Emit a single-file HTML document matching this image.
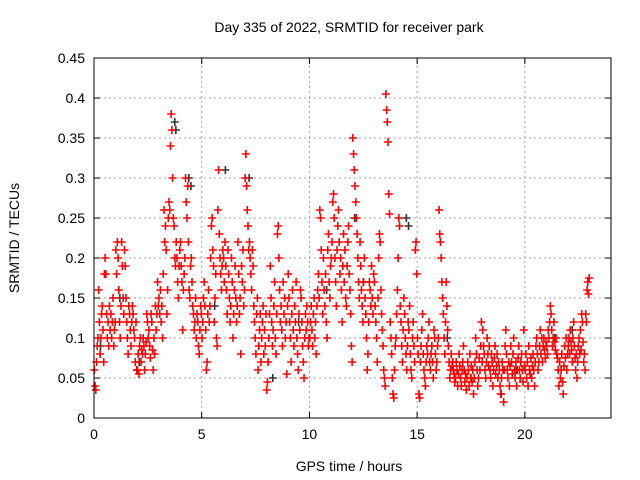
<!DOCTYPE html>
<html><head><meta charset="utf-8"><style>
body{margin:0;background:#fff}
svg{display:block;font-family:"Liberation Sans",sans-serif}
</style></head><body>
<svg id="chart" width="640" height="480">
<text x="349" y="32" font-size="14" text-anchor="middle">Day 335 of 2022, SRMTID for receiver park</text>
<text x="349" y="471" font-size="14" text-anchor="middle">GPS time / hours</text>
<text transform="translate(19,238) rotate(-90)" font-size="14" text-anchor="middle">SRMTID / TECUs</text>
<g id="grid"></g><g id="ticks"></g><g id="black"></g><g id="red"></g>
<rect x="94" y="58" width="517" height="360" fill="none" stroke="#000"/>
</svg>
<script>
const xTicks=[0,5,10,15,20];
const yTicks=[0,0.05,0.1,0.15,0.2,0.25,0.3,0.35,0.4,0.45];
const yTickLabels=["0","0.05","0.1","0.15","0.2","0.25","0.3","0.35","0.4","0.45"];
const redByHour=[
[0.06,0.04,0.035,0.07,0.09,0.1,0.16,0.12,0.08,0.1,0.13,0.14,0.11,0.07,0.18,0.2,0.18,0.13,0.1,0.12,0.09,0.14,0.11,0.13,0.1,0.12,0.15,0.09,0.11,0.12],
[0.21,0.18,0.22,0.2,0.16,0.12,0.1,0.14,0.22,0.19,0.15,0.13,0.21,0.19,0.15,0.12,0.1,0.08,0.14,0.13,0.11,0.09,0.12,0.14,0.13,0.11,0.1,0.07,0.12,0.06],
[0.06,0.08,0.055,0.09,0.1,0.07,0.085,0.08,0.1,0.09,0.06,0.08,0.095,0.13,0.12,0.1,0.11,0.09,0.075,0.13,0.12,0.085,0.06,0.1,0.08,0.14,0.11,0.13,0.17,0.14],
[0.15,0.13,0.16,0.12,0.14,0.1,0.18,0.26,0.22,0.24,0.21,0.13,0.16,0.25,0.27,0.26,0.34,0.38,0.36,0.3,0.25,0.24,0.2,0.19,0.22,0.2,0.17,0.15,0.19,0.21],
[0.22,0.19,0.17,0.11,0.16,0.18,0.2,0.3,0.27,0.25,0.29,0.22,0.16,0.15,0.19,0.2,0.17,0.14,0.13,0.11,0.12,0.15,0.1,0.13,0.12,0.09,0.08,0.11,0.14,0.13],
[0.1,0.12,0.15,0.17,0.14,0.11,0.06,0.07,0.13,0.16,0.12,0.14,0.2,0.24,0.25,0.21,0.19,0.12,0.15,0.18,0.1,0.09,0.26,0.31,0.23,0.2,0.18,0.16,0.19,0.21],
[0.2,0.17,0.22,0.19,0.16,0.13,0.21,0.18,0.15,0.12,0.14,0.2,0.17,0.1,0.13,0.16,0.19,0.15,0.12,0.14,0.22,0.18,0.13,0.15,0.08,0.19,0.17,0.21,0.14,0.16],
[0.3,0.33,0.29,0.26,0.24,0.21,0.22,0.2,0.18,0.16,0.21,0.19,0.14,0.12,0.1,0.08,0.13,0.15,0.06,0.09,0.11,0.13,0.07,0.1,0.12,0.14,0.08,0.11,0.09,0.13],
[0.035,0.045,0.07,0.1,0.13,0.19,0.15,0.12,0.09,0.11,0.14,0.17,0.1,0.08,0.13,0.23,0.24,0.2,0.16,0.12,0.14,0.11,0.09,0.17,0.13,0.15,0.1,0.12,0.055,0.14],
[0.18,0.15,0.12,0.1,0.07,0.13,0.16,0.11,0.09,0.14,0.12,0.17,0.1,0.08,0.06,0.13,0.11,0.16,0.15,0.12,0.09,0.07,0.05,0.1,0.13,0.11,0.14,0.12,0.09,0.1],
[0.1,0.12,0.14,0.11,0.09,0.13,0.15,0.1,0.12,0.08,0.14,0.16,0.18,0.15,0.26,0.25,0.21,0.17,0.13,0.2,0.16,0.14,0.18,0.12,0.1,0.21,0.23,0.17,0.15,0.19],
[0.2,0.22,0.27,0.28,0.25,0.2,0.17,0.14,0.21,0.24,0.26,0.22,0.18,0.2,0.16,0.12,0.19,0.23,0.17,0.21,0.15,0.14,0.19,0.22,0.24,0.18,0.16,0.13,0.09,0.07],
[0.35,0.33,0.31,0.29,0.27,0.25,0.23,0.2,0.17,0.15,0.22,0.19,0.16,0.14,0.12,0.17,0.2,0.15,0.13,0.1,0.06,0.08,0.12,0.17,0.16,0.14,0.19,0.15,0.13,0.18],
[0.17,0.14,0.12,0.1,0.07,0.15,0.2,0.23,0.22,0.16,0.13,0.11,0.09,0.06,0.05,0.04,0.405,0.385,0.37,0.345,0.28,0.255,0.12,0.1,0.08,0.05,0.03,0.025,0.06,0.09],
[0.1,0.13,0.16,0.2,0.25,0.24,0.14,0.12,0.09,0.07,0.11,0.15,0.13,0.1,0.08,0.06,0.09,0.12,0.11,0.14,0.08,0.06,0.05,0.1,0.12,0.09,0.07,0.21,0.22,0.18],
[0.1,0.08,0.03,0.025,0.07,0.09,0.11,0.13,0.08,0.06,0.05,0.04,0.07,0.09,0.08,0.1,0.12,0.07,0.06,0.08,0.09,0.07,0.05,0.11,0.1,0.08,0.06,0.07,0.09,0.1],
[0.26,0.23,0.22,0.2,0.17,0.15,0.13,0.1,0.08,0.12,0.17,0.14,0.11,0.09,0.07,0.05,0.06,0.08,0.065,0.07,0.06,0.055,0.045,0.05,0.07,0.06,0.04,0.055,0.08,0.065],
[0.05,0.04,0.06,0.07,0.09,0.06,0.045,0.055,0.035,0.05,0.07,0.06,0.04,0.08,0.05,0.065,0.045,0.06,0.03,0.05,0.07,0.1,0.08,0.06,0.04,0.05,0.075,0.06,0.09,0.12],
[0.07,0.11,0.09,0.08,0.06,0.05,0.07,0.1,0.08,0.065,0.09,0.06,0.05,0.08,0.07,0.04,0.06,0.075,0.09,0.055,0.065,0.08,0.05,0.07,0.06,0.04,0.03,0.05,0.07,0.06],
[0.02,0.06,0.09,0.11,0.08,0.06,0.05,0.07,0.04,0.065,0.09,0.07,0.055,0.08,0.1,0.06,0.05,0.07,0.04,0.06,0.075,0.09,0.06,0.05,0.07,0.08,0.06,0.045,0.11,0.065],
[0.06,0.08,0.05,0.07,0.04,0.09,0.06,0.055,0.075,0.05,0.065,0.08,0.06,0.04,0.07,0.09,0.1,0.08,0.06,0.07,0.09,0.11,0.08,0.1,0.07,0.09,0.1,0.085,0.075,0.095],
[0.09,0.08,0.11,0.1,0.12,0.14,0.13,0.11,0.09,0.1,0.12,0.095,0.085,0.1,0.08,0.075,0.06,0.04,0.07,0.05,0.06,0.08,0.045,0.03,0.065,0.09,0.075,0.1,0.06,0.08],
[0.09,0.1,0.08,0.11,0.095,0.085,0.07,0.1,0.12,0.09,0.075,0.06,0.08,0.05,0.07,0.09,0.1,0.08,0.11,0.085,0.13,0.12,0.095,0.07,0.08,0.06,0.13,0.12,0.16,0.17,0.155,0.175]
];
const blackHours=[0.3,1.2,2.1,3.75,3.8,4.4,4.5,5.6,6.1,7.2,8.3,9.5,10.8,12.1,12.5,14.5,14.6,16.4,17.5,18.9,19.6,21.4,22.2];
const blackValues=[0.09,0.15,0.07,0.37,0.36,0.3,0.29,0.14,0.31,0.3,0.05,0.12,0.16,0.25,0.17,0.25,0.24,0.1,0.05,0.03,0.06,0.1,0.11];
const NS="http://www.w3.org/2000/svg";
const X0=94,X1=611,Y0=418,Y1=58,XMAX=24,YMAX=0.45;
const xs=v=>X0+(X1-X0)*v/XMAX, ys=v=>Y0-(Y0-Y1)*v/YMAX;
function mk(tag,at,parent){const e=document.createElementNS(NS,tag);for(const k in at)e.setAttribute(k,at[k]);document.getElementById(parent).appendChild(e);return e;}
xTicks.forEach(t=>{const x=xs(t);
 if(t>0){const g=mk('line',{x1:x,x2:x,y1:Y0,y2:Y1,stroke:'#a0a0a0','stroke-dasharray':'2,3'},'grid');
 
 }
 mk('line',{x1:x,x2:x,y1:Y0,y2:Y0-6,stroke:'#000'},'ticks');
 mk('line',{x1:x,x2:x,y1:Y1,y2:Y1+6,stroke:'#000'},'ticks');
 const l=mk('text',{x:x,y:Y0+21,'font-size':14,'text-anchor':'middle'},'ticks');l.textContent=t;
 
 });
yTicks.forEach((t,i)=>{const y=ys(t);
 if(t>0){const g=mk('line',{x1:X0,x2:X1,y1:y,y2:y,stroke:'#a0a0a0','stroke-dasharray':'2,3'},'grid');
 
 }
 mk('line',{x1:X0,x2:X0+6,y1:y,y2:y,stroke:'#000'},'ticks');
 mk('line',{x1:X1,x2:X1-6,y1:y,y2:y,stroke:'#000'},'ticks');
 const l=mk('text',{x:X0-9,y:y+5,'font-size':14,'text-anchor':'end'},'ticks');l.textContent=yTickLabels[i];
 
 });
function plus(h,v,col,parent,name){const x=xs(h),y=ys(v);
 const p=mk('path',{d:`M${x-4} ${y}H${x+4}M${x} ${y-4}V${y+4}`,stroke:col,'stroke-width':1.6,fill:'none'},parent);
 
 }
blackHours.forEach((h,i)=>plus(h,blackValues[i],'#333','black','black-point'));
redByHour.forEach((arr,h)=>arr.forEach((v,j)=>plus(h+(j+0.5)/arr.length,v,'#ff0000','red','red-point')));
</script>
</body></html>
